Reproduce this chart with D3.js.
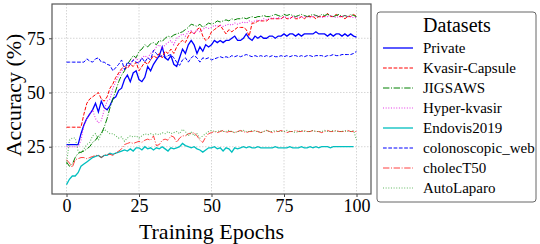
<!DOCTYPE html>
<html lang="en">
<head>
  <meta charset="UTF-8" />
  <title>Accuracy vs Training Epochs</title>
  <script src="https://d3js.org/d3.v7.min.js"></script>
  <style>
    body { margin: 0; padding: 0; background: white; }
    svg { display: block; }
    svg text { font-family: "Liberation Serif", "Times New Roman", serif; }
  </style>
</head>
<body>
  <svg id="chart" width="540" height="244"></svg>

  <script>
    // accuracy per epoch
    const private_ = [
      26, 26, 26, 26, 26, 31, 35, 38, 40, 42,
      45, 41, 46, 43, 42, 44, 47, 48, 51, 52,
      56, 58, 55, 59, 60, 56, 55, 57, 62, 60,
      63, 65, 67, 71, 66, 65, 67, 63, 62, 66,
      70, 68, 72, 74, 72, 68, 71, 69, 72, 71,
      72, 74, 73, 74, 73, 74, 74, 75, 76, 74,
      74, 75, 77, 75, 74, 76, 75, 76, 75, 75,
      76, 76, 75, 76, 76, 77, 76, 77, 77, 76,
      77, 76, 77, 77, 77, 77, 78, 77, 77, 77,
      76, 77, 76, 77, 77, 76, 77, 76, 77, 76,
      75.5
    ];
    const kvasirCapsule = [
      34, 34, 34, 34, 34, 34, 40, 45, 47, 48,
      49, 50, 47, 46, 48, 52, 54, 57, 59, 61,
      62, 61, 63, 62, 64, 60, 62, 64, 63, 65,
      67, 66, 68, 66, 69, 68, 70, 68, 71, 73,
      74, 73, 76, 78, 77, 79, 80, 76, 74, 75,
      78, 79, 80, 81, 79, 77, 79, 78, 79, 80,
      80, 80, 79, 76, 82, 82, 83, 83, 83, 83,
      84, 84, 84, 84, 84, 85, 84, 84, 85, 84,
      84, 85, 84, 85, 85, 85, 84, 85, 85, 85,
      86.5, 85, 85, 86, 85, 85, 84, 85, 85, 86,
      85
    ];
    const jigsaws = [
      18, 16, 17, 20, 22, 22.5, 23, 24, 25, 27,
      28, 30, 31, 34, 38, 43, 47, 51, 55, 58,
      60, 63, 65, 67, 66, 69, 70, 72, 71, 72.5,
      73, 72, 74, 73.5, 75, 76, 75.5, 76.5, 77, 77.5,
      78, 79, 80, 81.5, 81, 80.5, 81.5, 80, 81, 82,
      81.5, 82, 83, 82.5, 83, 83.5, 83, 84, 83.5, 84,
      84, 84.5, 84, 84.5, 85, 84.5, 85, 85, 85.5, 85,
      85, 85.5, 86, 85.5, 85, 86, 85.5, 86, 85.5, 85,
      85.5, 86, 85.5, 85, 85.5, 86, 85.5, 85, 86, 85.5,
      86, 85.5, 85, 85.5, 86, 85, 85.5, 85, 86, 85.5,
      85
    ];
    const hyperKvasir = [
      25, 25, 25, 25, 25, 28, 35, 38, 40, 42,
      38, 36, 37, 42, 46, 47, 52, 55, 58, 60,
      61, 62, 63, 65, 66, 64, 66, 67, 66, 68,
      69, 71, 72, 70, 72, 73, 74, 72, 75, 76,
      77, 76, 78, 78.5, 77, 79, 78, 79, 80, 79.5,
      80, 81, 80.5, 81, 80.5, 81, 81.5, 81, 82, 81.5,
      82, 82.5, 82, 83, 82.5, 83, 83.5, 83, 84, 83.5,
      84, 84.5, 84, 84.5, 84, 85, 84.5, 84, 85, 84.5,
      85, 84.5, 85, 85, 84.5, 85, 85.5, 85, 84.5, 85,
      85, 85.5, 85, 84.5, 85, 85, 85.5, 85, 85, 84.5,
      84.5
    ];
    const endovis2019 = [
      7.5, 10, 11.5, 11.5, 13, 16, 17, 18, 19, 20,
      20.5, 21, 20, 21, 21, 22, 21.5, 22, 22.5, 23,
      23.5, 23, 24, 23, 24.5, 24.5, 23.5, 25, 24, 24.5,
      23.5, 24.5, 24, 25, 24, 23, 24.5, 24, 24.5, 25,
      26.5, 25.5, 25, 24.5, 25, 24, 23.5, 22.5, 23.5, 24.5,
      24.5, 25, 24, 24.5, 23, 24.5, 24, 22.5, 24.5, 24,
      24.5, 25, 24.5, 25, 24.5, 24.5, 25, 24.5, 24.5, 24.5,
      24.5, 24.5, 25, 24.5, 24.5, 24.5, 24.5, 25, 24.5, 24.5,
      24.5, 25, 24.5, 24.5, 25, 24.5, 25, 24.5, 25, 25,
      25, 24.5, 25, 25, 25, 25, 25, 25, 25, 25
    ];
    const colonoscopicWeb = [
      64, 64, 64, 64, 64, 64, 64, 65.5, 64.5, 64,
      65.5, 66, 64, 64, 63, 62.5, 60, 61.5, 63, 65,
      60.5, 64, 63, 65, 64, 63.5, 66, 64, 66, 65,
      69.5, 68, 66.5, 67, 66, 67, 67.5, 66, 64, 62.5,
      65, 66, 64, 66, 67, 66, 64, 66, 65.5, 66,
      65, 65.5, 66, 66.5, 66, 66.5, 66, 67, 66.5, 67,
      66.5, 67, 67.5, 67, 66.5, 67, 66.5, 67, 66.5, 67,
      66.5, 67, 66.5, 66.5, 67, 66.5, 67, 66.5, 67, 67,
      66.5, 67, 66.5, 67, 67, 66.5, 67, 67, 67, 66.5,
      67, 67, 67.5, 67, 67, 67.5, 67.5, 67.5, 67.5, 68,
      69
    ];
    const cholecT50 = [
      19, 17.5, 15.5, 19, 19.5, 20, 20, 19.5, 20, 20.5,
      21, 21, 20, 21, 21.5, 21.5, 21, 22, 23, 24,
      26, 26.5, 27, 26.5, 27, 27.5, 27, 28, 28.5, 28,
      30, 25.5, 26, 28, 28.5, 28, 30, 29.5, 27, 29,
      30, 30, 31, 31, 31.5, 30, 28, 27, 29.5, 31,
      31.5, 32, 31.5, 32, 32.5, 31.5, 32, 32, 31.5, 32,
      32.5, 32, 31.5, 32, 32, 32.5, 32, 31.5, 32, 32.5,
      32, 31.5, 32, 32, 32.5, 32, 31.5, 32, 32, 32.5,
      32, 32, 32.5, 32, 32, 32.5, 32, 32, 31.5, 32,
      32.5, 32, 32, 32.5, 32, 32, 32, 32.5, 32, 32,
      32
    ];
    const autoLaparo = [
      17, 28, 29, 29, 23, 22, 24, 26, 27, 30,
      31, 28, 31, 33, 32, 31, 31, 30, 29, 29.5,
      27.5, 29, 30, 29.5, 30, 29, 30, 31, 30.5, 31,
      30.5, 31, 30.5, 31.5, 31, 32, 31, 31.5, 32, 31,
      33, 32, 30, 32, 30, 31, 29, 30, 31, 32,
      32.5, 32, 32, 32.5, 32, 32, 32.5, 32, 31.5, 32,
      32, 32.5, 32, 32, 32.5, 32, 32, 31.5, 32, 32.5,
      32, 32, 32.5, 32, 32, 32, 32.5, 32, 32, 31.5,
      32, 32.5, 32, 32, 32, 32.5, 32, 32, 32, 32.5,
      32, 32, 32.5, 32, 32, 32, 32.5, 32, 32, 32.5,
      28
    ];

    const datasetNames = ["Private", "Kvasir-Capsule", "JIGSAWS", "Hyper-kvasir",
      "Endovis2019", "colonoscopic_web", "cholecT50", "AutoLaparo"];
    const xTicks = [0, 25, 50, 75, 100];
    const yTicks = [25, 50, 75];

    const series = [
      { name: datasetNames[0], values: private_, color: "#0000ff", dash: null, width: 1.3, opacity: 1 },
      { name: datasetNames[1], values: kvasirCapsule, color: "#ff0000", dash: "3.7,1.6", width: 1, opacity: 1 },
      { name: datasetNames[2], values: jigsaws, color: "#008000", dash: "6.4,1.6,1,1.6", width: 1, opacity: 1 },
      { name: datasetNames[3], values: hyperKvasir, color: "#e000e0", dash: "1,1.65", width: 1.1, opacity: 0.8 },
      { name: datasetNames[4], values: endovis2019, color: "#00bfbf", dash: null, width: 1.3, opacity: 1 },
      { name: datasetNames[5], values: colonoscopicWeb, color: "#0000ff", dash: "3.7,1.6", width: 1, opacity: 1 },
      { name: datasetNames[6], values: cholecT50, color: "#ff0000", dash: "6.4,1.6,1,1.6", width: 1, opacity: 0.75 },
      { name: datasetNames[7], values: autoLaparo, color: "#2ca02c", dash: "1,1.65", width: 1.1, opacity: 0.75 }
    ];

    const serif = "Liberation Serif";
    const svg = d3.select("#chart");
    const margin = { top: 4, right: 169, bottom: 50, left: 52 };
    const width = 540 - margin.left - margin.right;
    const height = 244 - margin.top - margin.bottom;

    const g = svg.append("g").attr("transform", `translate(${margin.left},${margin.top})`);

    const x = d3.scaleLinear().domain([-5, 105]).range([0, width]);
    const y = d3.scaleLinear().domain([3.2, 90.8]).range([height, 0]);

    // grid
    g.append("g").selectAll("line").data(xTicks).enter().append("line")
      .attr("x1", d => x(d)).attr("x2", d => x(d))
      .attr("y1", 0).attr("y2", height)
      .attr("stroke", "#cccccc").attr("stroke-width", 0.8).attr("stroke-dasharray", "1.5,1.5");
    g.append("g").selectAll("line").data(yTicks).enter().append("line")
      .attr("x1", 0).attr("x2", width)
      .attr("y1", d => y(d)).attr("y2", d => y(d))
      .attr("stroke", "#cccccc").attr("stroke-width", 0.8).attr("stroke-dasharray", "1.5,1.5");

    const line = d3.line()
      .x((d, i) => x(i))
      .y(d => y(d));

    g.append("g").selectAll("path").data(series).enter().append("path")
      .attr("d", d => line(d.values))
      .attr("fill", "none")
      .attr("stroke", d => d.color)
      .attr("stroke-width", d => d.width)
      .attr("stroke-opacity", d => d.opacity)
      .attr("stroke-dasharray", d => d.dash);

    // axes
    const xAxis = g.append("g")
      .attr("transform", `translate(0,${height})`)
      .call(d3.axisBottom(x).tickValues(xTicks).tickSize(3).tickPadding(2));
    const yAxis = g.append("g")
      .call(d3.axisLeft(y).tickValues(yTicks).tickSize(3).tickPadding(4));
    [xAxis, yAxis].forEach(a => {
      a.attr("font-family", serif);
      a.select(".domain").remove();
      a.selectAll("line").attr("stroke", "#444");
      a.selectAll("text").attr("font-size", 18).attr("fill", "#000");
    });

    g.append("rect")
      .attr("width", width).attr("height", height)
      .attr("fill", "none").attr("stroke", "#555").attr("stroke-width", 1.2);

    svg.append("text")
      .attr("x", margin.left + width / 2).attr("y", 239)
      .attr("text-anchor", "middle").attr("font-size", 22).attr("font-family", serif)
      .text("Training Epochs");
    svg.append("text")
      .attr("transform", `translate(21,${margin.top + height / 2 - 4}) rotate(-90)`)
      .attr("text-anchor", "middle").attr("font-size", 22).attr("font-family", serif)
      .text("Accuracy (%)");

    // legend
    const lg = svg.append("g").attr("transform", "translate(377,12)");
    lg.append("rect")
      .attr("width", 159).attr("height", 190).attr("rx", 3)
      .attr("fill", "white").attr("stroke", "#666").attr("stroke-width", 1);
    lg.append("text")
      .attr("x", 80).attr("y", 20).attr("text-anchor", "middle")
      .attr("font-size", 20).attr("font-family", serif).text("Datasets");
    const items = lg.selectAll(".item").data(series).enter().append("g")
      .attr("class", "item")
      .attr("transform", (d, i) => `translate(0,${36 + i * 20})`);
    items.append("line")
      .attr("x1", 6).attr("x2", 36)
      .attr("stroke", d => d.color)
      .attr("stroke-width", d => d.width)
      .attr("stroke-opacity", d => d.opacity)
      .attr("stroke-dasharray", d => d.dash);
    items.append("text")
      .attr("x", 46).attr("y", 5)
      .attr("font-size", 15).attr("font-family", serif).text(d => d.name);
  </script>
</body>
</html>
